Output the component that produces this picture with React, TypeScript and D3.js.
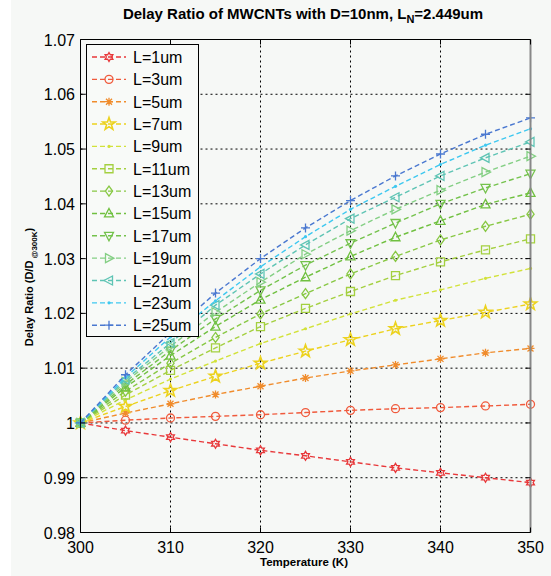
import React, { useEffect, useRef } from "react";
import * as d3 from "d3";

const temps = [300, 305, 310, 315, 320, 325, 330, 335, 340, 345, 350];

const l1 = [1, 0.9986, 0.9974, 0.9962, 0.995, 0.994, 0.9929, 0.9918, 0.9909, 0.99, 0.9891];
const l3 = [1, 1.0005, 1.0009, 1.0012, 1.0015, 1.0019, 1.0023, 1.0026, 1.0028, 1.0031, 1.0034];
const l5 = [1, 1.0018, 1.0035, 1.0052, 1.0067, 1.0082, 1.0095, 1.0106, 1.0117, 1.0128, 1.0136];
const l7 = [1, 1.003, 1.0059, 1.0085, 1.0109, 1.0131, 1.0152, 1.0172, 1.0187, 1.0202, 1.0217];
const l9 = [1, 1.0042, 1.008, 1.0113, 1.0145, 1.0172, 1.0199, 1.0224, 1.0243, 1.0264, 1.0282];
const l11 = [1, 1.0051, 1.0096, 1.0137, 1.0176, 1.0209, 1.024, 1.0269, 1.0294, 1.0316, 1.0336];
const l13 = [1, 1.0058, 1.0109, 1.0156, 1.0199, 1.0236, 1.0272, 1.0304, 1.0334, 1.0359, 1.0381];
const l15 = [1, 1.0065, 1.0123, 1.0176, 1.0225, 1.0266, 1.0304, 1.0339, 1.0369, 1.0399, 1.042];
const l17 = [1, 1.007, 1.0132, 1.019, 1.0242, 1.0288, 1.0328, 1.0365, 1.04, 1.0429, 1.0455];
const l19 = [1, 1.0075, 1.014, 1.0202, 1.0257, 1.0308, 1.0351, 1.039, 1.0425, 1.0458, 1.0487];
const l21 = [1, 1.0079, 1.0146, 1.0215, 1.0272, 1.0325, 1.0373, 1.0412, 1.0451, 1.0484, 1.0513];
const l23 = [1, 1.0083, 1.0157, 1.0223, 1.0285, 1.034, 1.039, 1.0432, 1.0472, 1.0507, 1.0537];
const l25 = [1, 1.0088, 1.0165, 1.0237, 1.03, 1.0356, 1.0406, 1.0451, 1.0491, 1.0527, 1.0557];

const labels = ["L=1um", "L=3um", "L=5um", "L=7um", "L=9um", "L=11um", "L=13um", "L=15um", "L=17um", "L=19um", "L=21um", "L=23um", "L=25um"];
const values = [l1, l3, l5, l7, l9, l11, l13, l15, l17, l19, l21, l23, l25];
const markers = ["h", "o", "*", "p", ".", "s", "d", "^", "v", ">", "<", ".", "+"];
const colors = ["#e8383a", "#f05a3c", "#f08c2c", "#ecd21e", "#d2e23a", "#a4d040", "#88c844", "#70c040", "#74c24c", "#84cf84", "#5ec4b4", "#3ec8f0", "#4a78d0"];

const xTicks = [300, 310, 320, 330, 340, 350];
const yTicks = [0.98, 0.99, 1, 1.01, 1.02, 1.03, 1.04, 1.05, 1.06, 1.07];

const font = "'Liberation Sans', Arial, sans-serif";

function star(n: number, ro: number, ri: number, rot: number) {
  const pts: string[] = [];
  for (let k = 0; k < n * 2; k++) {
    const r = k % 2 === 0 ? ro : ri;
    const a = rot + (Math.PI * k) / n;
    pts.push(`${(r * Math.sin(a)).toFixed(2)},${(-r * Math.cos(a)).toFixed(2)}`);
  }
  return "M" + pts.join("L") + "Z";
}

function markerPath(m: string) {
  switch (m) {
    case "o":
      return "M4,0A4,4 0 1,1 -4,0A4,4 0 1,1 4,0Z";
    case "s":
      return "M-4,-4H4V4H-4Z";
    case "d":
      return "M0,-5L3.6,0L0,5L-3.6,0Z";
    case "^":
      return "M0,-5L4.5,3.5H-4.5Z";
    case "v":
      return "M0,5L4.5,-3.5H-4.5Z";
    case ">":
      return "M5,0L-3.5,4.5V-4.5Z";
    case "<":
      return "M-5,0L3.5,4.5V-4.5Z";
    case "+":
      return "M-4.5,0H4.5M0,-4.5V4.5";
    case "*":
      return "M-4,0H4M0,-4V4M-3,-3L3,3M-3,3L3,-3";
    case "p":
      return star(5, 6.5, 2.6, 0);
    case "h":
      return star(6, 4.5, 2.6, 0);
    default:
      return "";
  }
}

function drawMarker(g: any, m: string, color: string, x: number, y: number) {
  if (m === ".") {
    g.append("circle").attr("cx", x).attr("cy", y).attr("r", 1.6).attr("fill", color);
    return;
  }
  g.append("path")
    .attr("transform", `translate(${x},${y})`)
    .attr("d", markerPath(m))
    .attr("fill", "none")
    .attr("stroke", color)
    .attr("stroke-width", m === "p" ? 1.6 : 1.3);
}

export default function App() {
  const ref = useRef<SVGSVGElement>(null);
  const width = 551;
  const height = 576;

  useEffect(() => {
    const svg = d3.select(ref.current);
    svg.selectAll("*").remove();

    const x = d3.scaleLinear().domain([300, 350]).range([80.5, 530.5]);
    const y = d3.scaleLinear().domain([0.98, 1.07]).range([532.5, 39.5]);

    svg.append("rect").attr("width", width).attr("height", height).attr("fill", "#f6f8f6");
    svg.append("rect").attr("width", 11).attr("height", height).attr("fill", "#ffffff");

    // grid
    const grid = svg.append("g");
    grid.selectAll("line.gx")
      .data(xTicks.slice(1, -1))
      .enter()
      .append("line")
      .attr("x1", d => x(d)).attr("x2", d => x(d))
      .attr("y1", y(0.98)).attr("y2", y(1.07))
      .attr("stroke", "#000").attr("stroke-width", 1).attr("stroke-dasharray", "2,3");
    grid.selectAll("line.gy")
      .data(yTicks.slice(1, -1))
      .enter()
      .append("line")
      .attr("y1", d => y(d)).attr("y2", d => y(d))
      .attr("x1", x(300)).attr("x2", x(350))
      .attr("stroke", "#000").attr("stroke-width", 1).attr("stroke-dasharray", "2,3");

    // series
    const line = d3.line<number>().x((d, i) => x(temps[i])).y(d => y(d));
    values.forEach((vals, si) => {
      const g = svg.append("g");
      g.append("path")
        .attr("d", line(vals))
        .attr("fill", "none")
        .attr("stroke", colors[si])
        .attr("stroke-width", 1.4)
        .attr("stroke-dasharray", "5,3");
      vals.forEach((v, i) => drawMarker(g, markers[si], colors[si], x(temps[i]), y(v)));
    });

    // axes box
    svg.append("line").attr("x1", x(300)).attr("x2", x(350)).attr("y1", y(1.07)).attr("y2", y(1.07)).attr("stroke", "#000");
    svg.append("line").attr("x1", x(300)).attr("x2", x(350)).attr("y1", y(0.98)).attr("y2", y(0.98)).attr("stroke", "#000");
    svg.append("line").attr("x1", x(300)).attr("x2", x(300)).attr("y1", y(0.98)).attr("y2", y(1.07)).attr("stroke", "#000");
    svg.append("line").attr("x1", x(350)).attr("x2", x(350)).attr("y1", y(0.98)).attr("y2", y(1.07)).attr("stroke", "#888").attr("stroke-width", 2);

    // tick marks (inside)
    xTicks.forEach(t => {
      svg.append("line").attr("x1", x(t)).attr("x2", x(t)).attr("y1", y(0.98)).attr("y2", y(0.98) - 5).attr("stroke", "#000");
      svg.append("line").attr("x1", x(t)).attr("x2", x(t)).attr("y1", y(1.07)).attr("y2", y(1.07) + 5).attr("stroke", "#000");
    });
    yTicks.forEach(t => {
      svg.append("line").attr("x1", x(300)).attr("x2", x(300) + 5).attr("y1", y(t)).attr("y2", y(t)).attr("stroke", "#000");
      svg.append("line").attr("x1", x(350)).attr("x2", x(350) - 5).attr("y1", y(t)).attr("y2", y(t)).attr("stroke", "#000");
    });

    // tick labels
    svg.selectAll("text.xt")
      .data(xTicks)
      .enter()
      .append("text")
      .attr("x", d => x(d))
      .attr("y", 553)
      .attr("text-anchor", "middle")
      .style("font-family", font)
      .style("font-size", "16px")
      .text(d => d3.format("d")(d));
    svg.selectAll("text.yt")
      .data(yTicks)
      .enter()
      .append("text")
      .attr("x", 75)
      .attr("y", d => y(d) + 6)
      .attr("text-anchor", "end")
      .style("font-family", font)
      .style("font-size", "16px")
      .text(d => (d === 1 ? "1" : d3.format(".2f")(d)));

    // title
    const title = svg.append("text")
      .attr("x", 303)
      .attr("y", 19)
      .attr("text-anchor", "middle")
      .style("font-family", font)
      .style("font-size", "15px")
      .style("font-weight", "bold");
    title.append("tspan").text("Delay Ratio of MWCNTs with D=10nm, L");
    title.append("tspan").attr("dy", 4).style("font-size", "11px").text("N");
    title.append("tspan").attr("dy", -4).text("=2.449um");

    // axis labels
    svg.append("text")
      .attr("x", 304)
      .attr("y", 566)
      .attr("text-anchor", "middle")
      .style("font-family", font)
      .style("font-size", "11.5px")
      .style("font-weight", "bold")
      .text("Temperature (K)");

    const yl = svg.append("text")
      .attr("transform", "translate(33,287) rotate(-90)")
      .attr("text-anchor", "middle")
      .style("font-family", font)
      .style("font-size", "11px")
      .style("font-weight", "bold");
    yl.append("tspan").text("Delay Ratio (D/D");
    yl.append("tspan").attr("dy", 4).style("font-size", "8px").text(" @300K");
    yl.append("tspan").attr("dy", -4).text(")");

    // legend
    const lg = svg.append("g");
    lg.append("rect")
      .attr("x", 86.5).attr("y", 44.5)
      .attr("width", 112).attr("height", 292)
      .attr("fill", "#f8faf8").attr("stroke", "#000");
    labels.forEach((lab, i) => {
      const ly = 57 + i * 22.35;
      lg.append("line")
        .attr("x1", 92).attr("x2", 126)
        .attr("y1", ly).attr("y2", ly)
        .attr("stroke", colors[i]).attr("stroke-width", 1.4).attr("stroke-dasharray", "5,3");
      drawMarker(lg, markers[i], colors[i], 109, ly);
      lg.append("text")
        .attr("x", 133).attr("y", ly + 6)
        .style("font-family", font)
        .style("font-size", "16px")
        .text(lab);
    });
  }, []);

  return (
    <div style={{ position: "absolute", left: 0, top: 0 }}>
      <svg ref={ref} width={width} height={height}></svg>
    </div>
  );
}
